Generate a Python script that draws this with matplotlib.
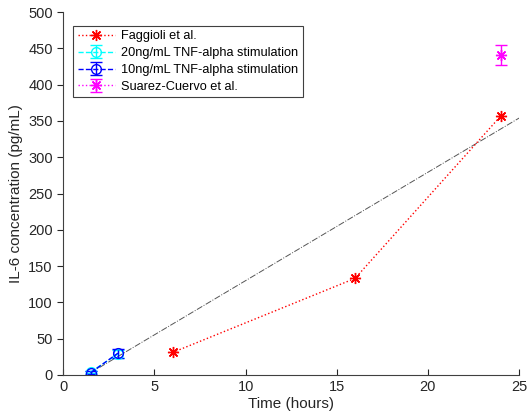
import numpy as np
import matplotlib.pyplot as plt

plt.rcParams['font.family'] = ['Liberation Sans', 'DejaVu Sans']

# data
fag_t = [6, 16, 24]
fag_il6 = [31, 133, 357]

t20 = [1.5, 3]
il6_20 = [4, 29]
err_20 = [2, 5]

t10 = [1.5, 3]
il6_10 = [3, 30]
err_10 = [2, 6]

suarez_t = [24]
suarez_il6 = [441]
suarez_err = [14]

fit_t = [1.5, 25]
fit_il6 = [3, 354]

star = (8, 2, 0)

fig = plt.figure(figsize=(5.27, 4.18), dpi=100)
ax = fig.add_axes([0.12, 0.103, 0.865, 0.868])

ax.plot(fit_t, fit_il6, color='#555555', ls='-.', lw=0.7, zorder=1)
ax.plot(fag_t, fag_il6, color='red', ls=':', lw=1, marker=star, ms=8,
        mew=1, label='Faggioli et al.')
ax.errorbar(t20, il6_20, yerr=err_20, color='cyan', ls='--', lw=1,
            marker='o', mfc='none', ms=7, capsize=4,
            label='20ng/mL TNF-alpha stimulation')
ax.errorbar(t10, il6_10, yerr=err_10, color='blue', ls='--', lw=1,
            marker='o', mfc='none', ms=7, capsize=4,
            label='10ng/mL TNF-alpha stimulation')
ax.errorbar(suarez_t, suarez_il6, yerr=suarez_err, color='magenta', ls=':',
            lw=1, marker=star, ms=8, mew=1, capsize=4,
            label='Suarez-Cuervo et al.')

ax.set_xlim(0, 25)
ax.set_ylim(0, 500)
ax.set_xticks(np.arange(0, 26, 5))
ax.set_yticks(np.arange(0, 501, 50))
ax.spines['top'].set_visible(False)
ax.spines['right'].set_visible(False)
for s in ['left', 'bottom']:
    ax.spines[s].set_color('#404040')
ax.tick_params(axis='x', direction='in')
ax.tick_params(axis='y', direction='out')
ax.tick_params(labelsize=10.5, colors='#262626', length=4)
ax.set_xlabel('Time (hours)', fontsize=11, color='#262626', labelpad=2)
ax.set_ylabel('IL-6 concentration (pg/mL)', fontsize=11, color='#262626')

leg = ax.legend(loc='upper left', bbox_to_anchor=(0.022, 0.962),
                fontsize=9.2, fancybox=False, edgecolor='#404040',
                framealpha=1, borderpad=0.35, labelspacing=0.38,
                handlelength=2.9, handletextpad=0.5, borderaxespad=0)
leg.get_frame().set_linewidth(0.8)

fig.savefig('out.png', dpi=100)
